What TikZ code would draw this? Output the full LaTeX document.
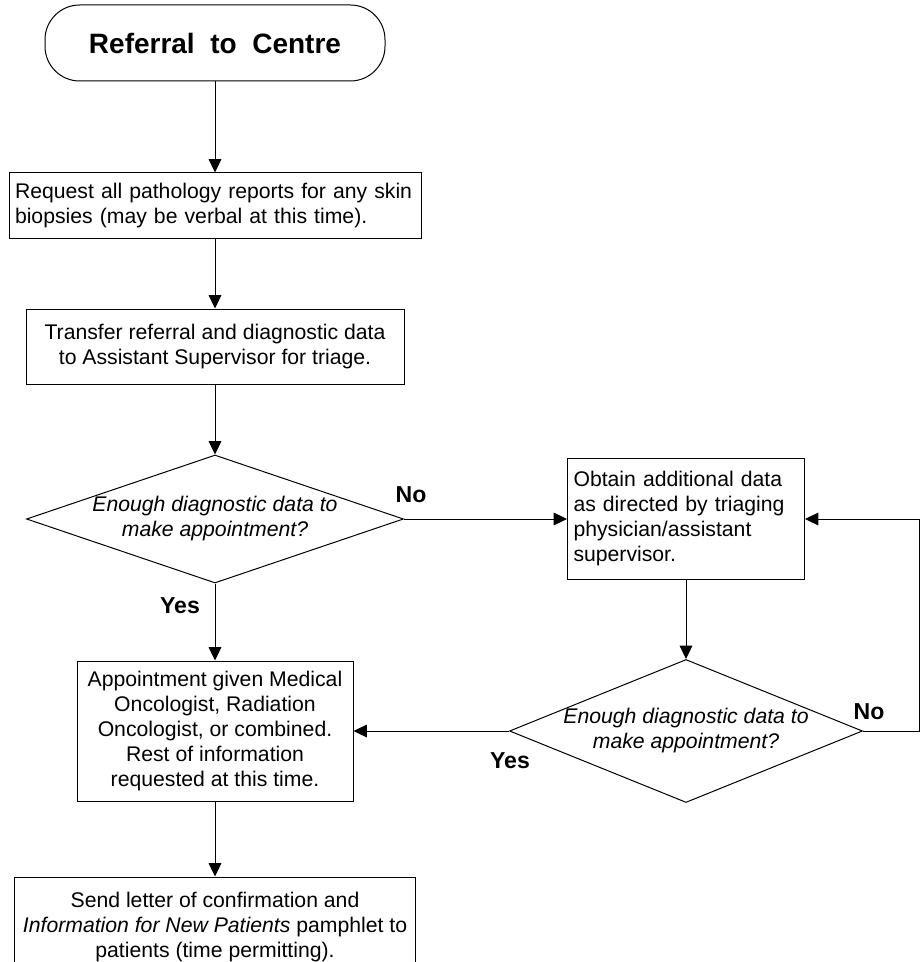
\documentclass[tikz,border=0pt]{standalone}
\usepackage{fontspec}
\setmainfont{Liberation Sans}
\usetikzlibrary{shapes.geometric,arrows.meta}

\newcommand{\lineW}{0.75pt}
\newcommand{\colX}{215}
\newcommand{\sideX}{686}
\newcommand{\loopX}{919}
\newcommand{\bodyFont}{\fontsize{15.9pt}{18.75pt}\selectfont}
\newcommand{\answerFont}{\fontsize{17.3pt}{20pt}\selectfont\bfseries}

\tikzset{
  box/.style={draw, line width=\lineW, rectangle, inner xsep=4.5pt, inner ysep=0pt, font=\bodyFont},
  decision/.style={draw, line width=\lineW, diamond, inner sep=0pt, font=\bodyFont\itshape},
  flow/.style={line width=\lineW, -{Triangle[length=10pt,width=9.5pt]}},
  answer/.style={font=\answerFont, inner sep=0pt}
}

\begin{document}
\begin{tikzpicture}[x=0.75pt, y=-0.75pt]

  \useasboundingbox (0,0) rectangle (922,962);
  \clip (0,0) rectangle (922,962);

  % Start:
  \node[box, rounded corners=26pt, minimum width=255pt, minimum height=57pt,
        font=\fontsize{21pt}{25pt}\selectfont\bfseries] (start) at (\colX,43) {Referral\ \ to\ \ Centre};

  % Main column:
  \node[box, minimum width=309pt, minimum height=49.5pt, text width=300pt, align=left] (req) at (\colX,206)
    {Request all pathology reports for any skin\\ biopsies (may be verbal at this time).};
  \node[box, minimum width=283.5pt, minimum height=56.25pt, align=center] (xfer) at (\colX,346.5)
    {Transfer referral and diagnostic data\\ to Assistant Supervisor for triage.};
  \node[decision, minimum width=282.75pt, minimum height=96pt] (dec1) at (\colX,519)
    {\makebox[0pt]{\begin{tabular}{@{}c@{}}Enough diagnostic data to\\ make appointment?\end{tabular}}};
  \node[box, minimum width=207pt, minimum height=105pt, align=center] (appt) at (\colX,731)
    {Appointment given Medical\\ Oncologist, Radiation\\ Oncologist, or combined.\\ Rest of information\\ requested at this time.};
  \node[box, minimum width=300.75pt, minimum height=75pt, align=center] (letter) at (\colX,927)
    {Send letter of confirmation and\\ \textit{Information for New Patients} pamphlet to\\ patients (time permitting).};

  % Side column:
  \node[box, minimum width=177.75pt, minimum height=90.75pt, text width=168.75pt, align=left] (obtain) at (\sideX,519)
    {Obtain additional data\\ as directed by triaging\\ physician/assistant\\ supervisor.};
  \node[decision, minimum width=264.75pt, minimum height=107.25pt] (dec2) at (\sideX,731)
    {\makebox[0pt]{\begin{tabular}{@{}c@{}}Enough diagnostic data to\\ make appointment?\end{tabular}}};
  \coordinate (loop) at (\loopX,519);

  % Answers:
  \node[answer] (no1) at (411,495) {No};
  \node[answer] (yes1) at (180,606) {Yes};
  \node[answer] (no2) at (869,712) {No};
  \node[answer] (yes2) at (510,761) {Yes};

  % Arrows:
  \draw[flow] (start) -- (req);
  \draw[flow] (req) -- (xfer);
  \draw[flow] (xfer) -- (dec1);
  \draw[flow] (dec1) -- (obtain);
  \draw[flow] (obtain) -- (dec2);
  \draw[flow] (dec2.east) -| (loop) -- (obtain.east);
  \draw[flow] (dec2) -- (appt);
  \draw[flow] (dec1) -- (appt);
  \draw[flow] (appt) -- (letter);

\end{tikzpicture}
\end{document}
